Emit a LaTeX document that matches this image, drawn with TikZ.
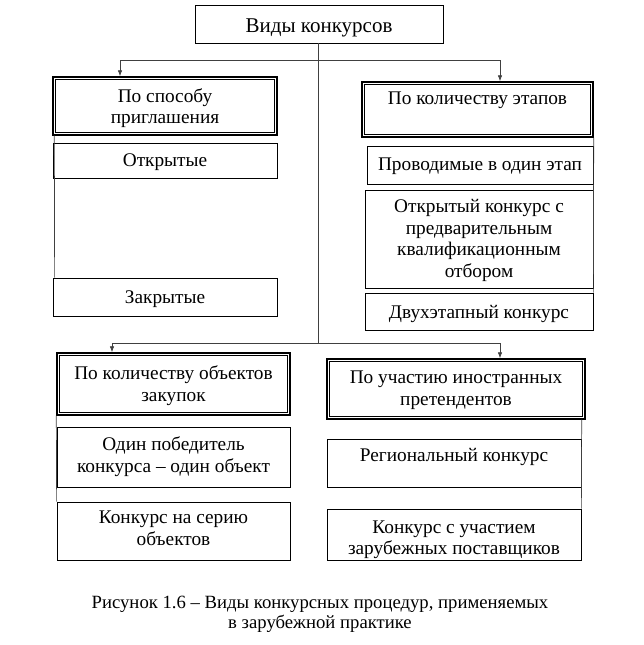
\documentclass[tikz,border=0pt]{standalone}
\usepackage{fontspec}
\setmainfont{Liberation Serif}
\usetikzlibrary{arrows.meta}
\tikzset{
  box/.style={draw=black, line width=0.7pt, align=center, inner sep=0pt,
    font=\fontsize{19.3}{21.7}\selectfont},
  hdr/.style={box, line width=1.4pt},
  conn/.style={draw=black!75, line width=0.7pt},
  arr/.style={conn, -{Latex[length=6pt,width=4.5pt]}},
  inner/.style={draw=black, line width=0.6pt},
}
\newcommand{\innerframe}[1]{\draw[inner] ([shift={(3pt,-3pt)}]#1.north west) rectangle ([shift={(-3pt,3pt)}]#1.south east);}
\begin{document}
\begin{tikzpicture}[x=1pt,y=-1pt]
\useasboundingbox (0,0) rectangle (643,645);
% nodes
\node[box, minimum width=248pt, minimum height=38pt, font=\fontsize{21}{24}\selectfont, text height=21pt] (root) at (319,24) {Виды конкурсов};
\node[hdr, minimum width=224pt, minimum height=58pt, text depth=0pt] (h1) at (165,106) {По способу\\приглашения};
\node[box, minimum width=224pt, minimum height=35pt, text height=17pt] (open) at (165,160.5) {Открытые};
\node[box, minimum width=224pt, minimum height=38pt, text height=18pt] (closed) at (165,297) {Закрытые};
\node[hdr, minimum width=231pt, minimum height=55pt, text depth=0pt] (h2) at (477.5,109.5) {По количеству этапов\\\strut};
\node[box, minimum width=226pt, minimum height=38pt, text height=15.5pt] (s1) at (480,165) {Проводимые в один этап};
\node[box, minimum width=228pt, minimum height=98pt, text depth=1.2pt] (s2) at (479,239) {Открытый конкурс с\\предварительным\\квалификационным\\отбором};
\node[box, minimum width=228pt, minimum height=37pt, text height=18pt] (s3) at (479,311.5) {Двухэтапный конкурс};
\node[hdr, minimum width=233pt, minimum height=62pt, text depth=0.2pt] (h3) at (173.5,384) {По количеству объектов\\закупок};
\node[box, minimum width=233pt, minimum height=60pt] (o1) at (173.5,457) {Один победитель\\конкурса -- один объект};
\node[box, minimum width=233pt, minimum height=58pt, text depth=5pt] (o2) at (173.5,531) {Конкурс на серию\\объектов};
\node[hdr, minimum width=258pt, minimum height=60pt, text depth=2.2pt] (h4) at (456,389) {По участию иностранных\\претендентов};
\node[box, minimum width=254pt, minimum height=48pt, text depth=0pt, text height=41pt] (f1) at (454,463) {Региональный конкурс\\\strut};
\node[box, minimum width=254pt, minimum height=51pt, text depth=0pt, text height=40.5pt] (f2) at (454,534.5) {Конкурс с участием\\зарубежных поставщиков};
\node[align=center, font=\fontsize{18.7}{20}\selectfont] (cap) at (320,614)
  {Рисунок 1.6 -- Виды конкурсных процедур, применяемых\\в зарубежной практике};
% inner frames of headers
\innerframe{h1}
\innerframe{h2}
\innerframe{h3}
\innerframe{h4}
% connectors
\coordinate (bus1) at (318,60);
\coordinate (bus2) at (318,343);
\coordinate (b1l) at (120,60);
\coordinate (b1r) at (500,60);
\coordinate (b2l) at (112,343);
\coordinate (b2r) at (500,343);
\draw[conn] (root.south -| bus1) -- (bus2);
\draw[conn] (b1l) -- (b1r);
\draw[conn] (b2l) -- (b2r);
\draw[arr] (b1l) -- (b1l |- h1.north);
\draw[arr] (b1r) -- (b1r |- h2.north);
\draw[arr] (b2l) -- (b2l |- h3.north);
\draw[arr] (b2r) -- (b2r |- h4.north);
% column spines
\draw[conn] ([xshift=2pt]h1.south west) -- ([xshift=2pt]closed.north west);
\draw[conn] (h2.south east) -- (s3.north east);
\draw[conn] (h3.south west) -- (o2.north west);
\draw[conn] ([xshift=-4pt]h4.south east) -- (f2.north east);
\end{tikzpicture}
\end{document}
